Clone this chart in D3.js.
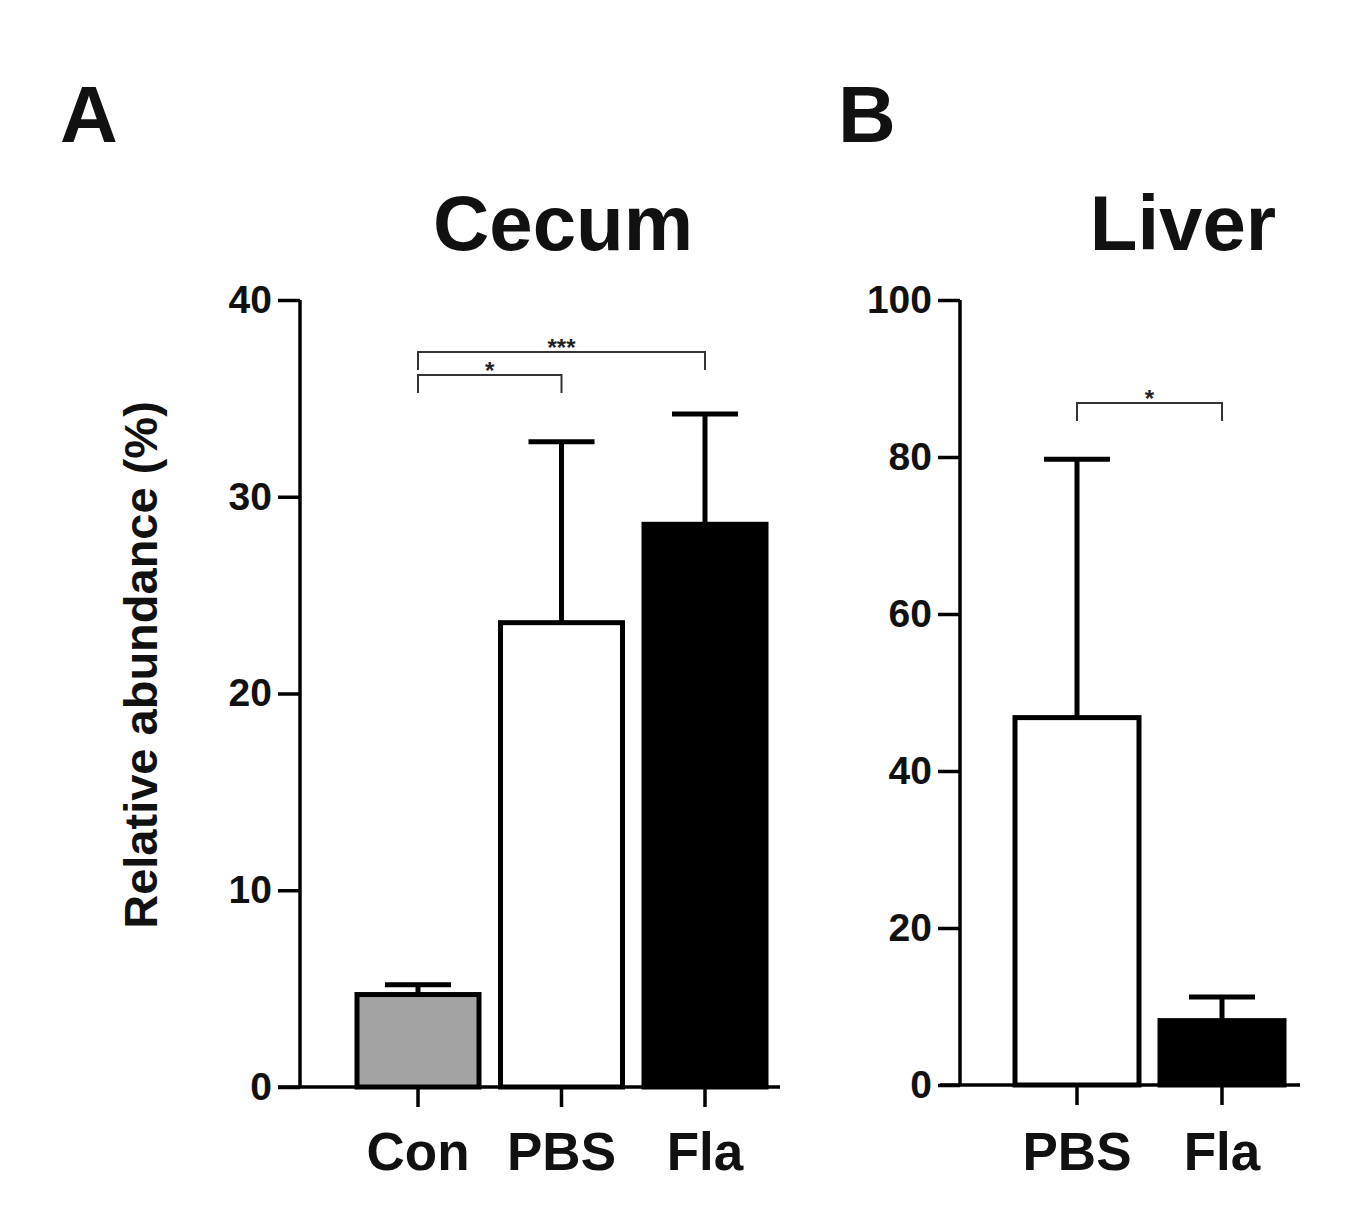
<!DOCTYPE html>
<html><head><meta charset="utf-8">
<script src="https://cdn.jsdelivr.net/npm/d3@7"></script>
<style>body{margin:0;background:#fff}text{font-family:"Liberation Sans",Arial,sans-serif;font-weight:bold}</style>
</head><body><svg id="c" width="1370" height="1227"></svg>
<script>
// panel A: cecum
var cecumGroups = ["Con", "PBS", "Fla"];
var cecumMeans = [4.7, 23.6, 28.6];
var cecumErr = [5.2, 32.8, 34.2];
var cecumTicks = [0, 10, 20, 30, 40];
// panel B: liver
var liverGroups = ["PBS", "Fla"];
var liverMeans = [46.8, 8.2];
var liverErr = [79.7, 11.2];
var liverTicks = [0, 20, 40, 60, 80, 100];
var fills = {Con: "#a3a3a3", PBS: "#ffffff", Fla: "#000000"};

var svg = d3.select("#c");

function panel(o) {
    var g = svg.append("g");
    var y = d3.scaleLinear().domain([0, o.max]).range([o.y0, o.y1]);
    var x = d3.scalePoint().domain(o.groups).range(o.xr);
    var bw = o.bw;

    g.append("g").attr("transform", "translate(" + o.ax + ",0)")
        .call(d3.axisLeft(y).tickValues(o.ticks).tickSize(22).tickPadding(6))
        .call(function (a) {
            a.select(".domain").attr("stroke-width", 3.5).attr("d", "M0," + o.y0 + "V" + o.y1);
            a.selectAll("line").attr("stroke-width", 3.5);
            a.selectAll("text").attr("font-size", 39).attr("fill", "#111");
        });
    // x axis
    g.append("line").attr("x1", o.xa[0]).attr("x2", o.xa[1]).attr("y1", o.y0).attr("y2", o.y0)
        .attr("stroke", "#000").attr("stroke-width", 3.5);
    o.groups.forEach(function (d, i) {
        var cx = x(d);
        g.append("line").attr("x1", cx).attr("x2", cx).attr("y1", o.y0).attr("y2", o.y0 + 20)
            .attr("stroke", "#000").attr("stroke-width", 3.5);
        g.append("line").attr("x1", cx).attr("x2", cx).attr("y1", y(o.means[i])).attr("y2", y(o.err[i]))
            .attr("stroke", "#000").attr("stroke-width", 5);
        g.append("line").attr("x1", cx - 33).attr("x2", cx + 33).attr("y1", y(o.err[i])).attr("y2", y(o.err[i]))
            .attr("stroke", "#000").attr("stroke-width", 5);
        g.append("rect").attr("x", cx - bw / 2).attr("width", bw)
            .attr("y", y(o.means[i])).attr("height", y(0) - y(o.means[i]))
            .attr("fill", fills[d]).attr("stroke", "#000").attr("stroke-width", 5);
        g.append("text").attr("x", cx).attr("y", 1170).attr("text-anchor", "middle")
            .attr("font-size", 53).attr("fill", "#111").text(d);
    });
    o.sig.forEach(function (s) {
        var a = x(s[0]), b = x(s[1]);
        g.append("path").attr("d", "M" + a + "," + (s[2] + 18) + "V" + s[2] + "H" + b + "V" + (s[2] + 18))
            .attr("fill", "none").attr("stroke", "#333").attr("stroke-width", 2);
        g.append("text").attr("x", (a + b) / 2).attr("y", s[2] + 4).attr("text-anchor", "middle")
            .attr("font-size", 24).attr("font-weight", "normal").attr("fill", "#222").text(s[3]);
    });
    g.append("text").attr("x", o.title[0]).attr("y", 250).attr("text-anchor", "middle")
        .attr("font-size", 78).attr("fill", "#111").text(o.title[1]);
    g.append("text").attr("x", o.letter[0]).attr("y", 142)
        .attr("font-size", 80).attr("fill", "#111").text(o.letter[1]);
}

panel({groups: cecumGroups, means: cecumMeans, err: cecumErr, ticks: cecumTicks, max: 40,
    y0: 1087, y1: 300, xr: [418, 705], bw: 122, ax: 300, xa: [278, 780],
    sig: [["Con", "PBS", 375, "*"], ["Con", "Fla", 352, "***"]],
    title: [563, "Cecum"], letter: [60, "A"]});
panel({groups: liverGroups, means: liverMeans, err: liverErr, ticks: liverTicks, max: 100,
    y0: 1085, y1: 300, xr: [1077, 1222], bw: 124, ax: 960, xa: [940, 1300],
    sig: [["PBS", "Fla", 403, "*"]],
    title: [1183, "Liver"], letter: [838, "B"]});

svg.append("text").attr("transform", "translate(157,665) rotate(-90)").attr("text-anchor", "middle")
    .attr("font-size", 47).attr("fill", "#111").text("Relative abundance (%)");
</script></body></html>
